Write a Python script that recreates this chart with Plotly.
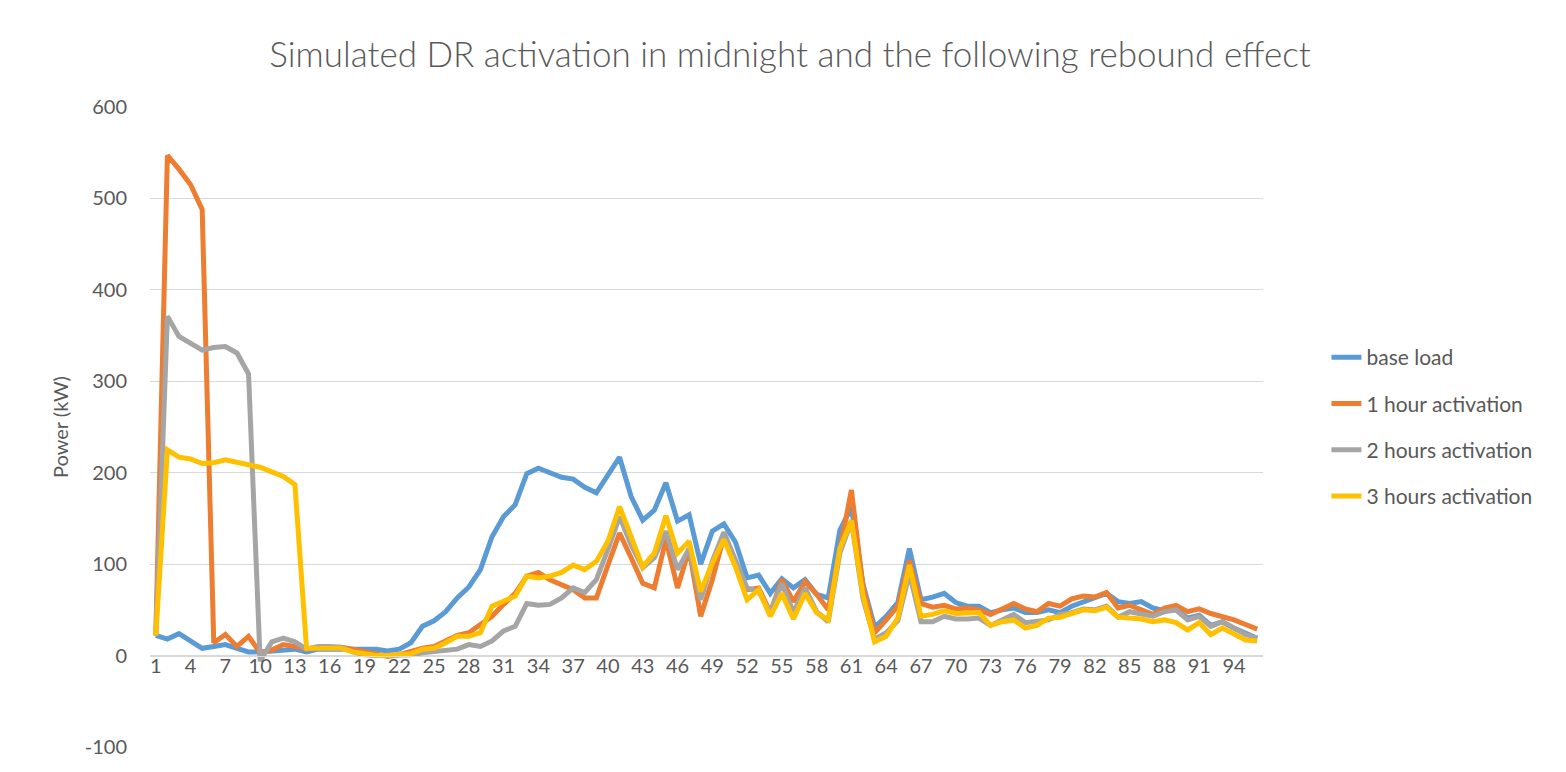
import plotly.graph_objects as go

x_vals = list(range(1, 97))

base_load = [22, 18, 24, 16, 8, 10, 12, 8, 4, 4,
             5, 7, 7, 4, 7, 7, 7, 7, 7, 7,
             5, 7, 14, 32, 38, 48, 63, 75, 94, 130,
             152, 165, 199, 205, 200, 195, 193, 184, 178, 197,
             217, 174, 148, 159, 189, 147, 154, 100, 136, 144,
             124, 85, 88, 68, 84, 74, 83, 67, 63, 137,
             162, 78, 31, 43, 58, 117, 61, 64, 68, 58,
             54, 54, 47, 50, 52, 47, 47, 50, 47, 54,
             59, 63, 68, 59, 57, 59, 52, 49, 50, 41,
             44, 33, 37, 30, 24, 19]

one_hour = [22, 547, 532, 515, 488, 14, 23, 10, 21, 3,
            6, 12, 10, 7, 9, 9, 9, 7, 4, 1,
            -1, 1, 5, 8, 10, 16, 22, 25, 34, 43,
            56, 68, 87, 91, 83, 77, 72, 63, 63, 99,
            134, 107, 79, 74, 127, 74, 116, 43, 83, 130,
            101, 72, 74, 47, 83, 59, 81, 67, 50, 119,
            181, 75, 25, 39, 54, 104, 57, 53, 55, 51,
            52, 50, 45, 51, 57, 51, 48, 57, 54, 62,
            65, 64, 69, 52, 55, 50, 45, 52, 55, 48,
            51, 46, 43, 39, 34, 29]

two_hours = [22, 371, 349, 342, 334, 337, 338, 331, 308, -6,
             15, 19, 15, 7, 10, 10, 9, 4, 1, 0,
             0, 1, 1, 3, 4, 5, 7, 12, 10, 16,
             27, 32, 57, 55, 56, 63, 74, 69, 83, 116,
             152, 121, 96, 107, 136, 94, 117, 61, 103, 135,
             105, 74, 70, 47, 79, 47, 74, 48, 37, 112,
             147, 62, 18, 25, 38, 90, 37, 37, 43, 40,
             40, 41, 33, 39, 45, 36, 37, 39, 45, 47,
             51, 50, 54, 42, 48, 46, 43, 48, 50, 39,
             43, 32, 37, 30, 23, 19]

three_hours = [22, 225, 217, 215, 210, 211, 214, 211, 209, 206,
               201, 196, 187, 8, 8, 8, 8, 4, 2, 0,
               0, 1, 2, 7, 8, 14, 21, 21, 25, 54,
               59, 65, 87, 85, 87, 91, 99, 94, 103, 125,
               163, 128, 97, 112, 153, 112, 125, 70, 101, 127,
               97, 61, 72, 43, 68, 40, 68, 47, 39, 117,
               148, 66, 15, 21, 41, 99, 43, 45, 49, 46,
               46, 47, 33, 37, 39, 30, 33, 41, 42, 46,
               50, 49, 53, 42, 41, 40, 37, 39, 36, 28,
               36, 23, 30, 23, 17, 16]

series_names = ["base load", "1 hour activation", "2 hours activation", "3 hours activation"]
series_values = [base_load, one_hour, two_hours, three_hours]
series_colors = ["#5B9BD5", "#ED7D31", "#A5A5A5", "#FFC000"]

x_tick_vals = list(range(1, 97, 3))
y_tick_vals = [-100, 0, 100, 200, 300, 400, 500, 600]
y_tick_text = ["-100", "0", "100", "200", "300", "400", "500", "600"]

FONT = "Lato"
TXT = "#595959"

fig = go.Figure()
for name, vals, col in zip(series_names, series_values, series_colors):
    fig.add_trace(go.Scatter(
        x=x_vals, y=vals, mode="lines", name=name,
        legendgroup=name,
        line=dict(color=col, width=5),
    ))

# page body adds an 8px offset; margins compensate for it
fig.update_layout(
    width=1566, height=772,
    margin=dict(l=142, r=311, t=99, b=33),
    paper_bgcolor="white", plot_bgcolor="white",
    font=dict(family=FONT, color=TXT, size=19),
    title=dict(
        text="Simulated DR activation in midnight and the following rebound effect",
        x=(790 - 8) / 1566, xanchor="center", xref="container",
        y=1 - (55 - 8) / 772, yanchor="middle", yref="container",
        font=dict(family=FONT, size=35, color=TXT, weight=300),
    ),
    showlegend=True,
    legend=dict(
        x=1.057, xanchor="left", y=0.5, yanchor="middle",
        font=dict(family=FONT, size=21, color=TXT),
        traceorder="grouped", tracegroupgap=16,
        bgcolor="rgba(0,0,0,0)",
    ),
    xaxis=dict(
        range=[0.5, 96.5],
        tickmode="array", tickvals=x_tick_vals,
        ticktext=[str(v) for v in x_tick_vals],
        showgrid=False, zeroline=False,
        showline=True, linecolor="#D9D9D9", linewidth=1.3,
        anchor="free", position=1 / 7,
        ticks="", ticklen=0, ticklabelstandoff=-8,
        tickfont=dict(family=FONT, size=20, color=TXT),
        fixedrange=True,
    ),
    yaxis=dict(
        range=[-100, 600],
        tickmode="array", tickvals=y_tick_vals, ticktext=y_tick_text,
        showgrid=True, gridcolor="#D9D9D9", gridwidth=1.3,
        zeroline=False, showline=False,
        ticks="", ticklabelstandoff=22,
        tickfont=dict(family=FONT, size=20, color=TXT),
        title=dict(text="Power (kW)", standoff=10,
                   font=dict(family=FONT, size=20, color=TXT)),
    ),
)

fig.write_html("out.html")
